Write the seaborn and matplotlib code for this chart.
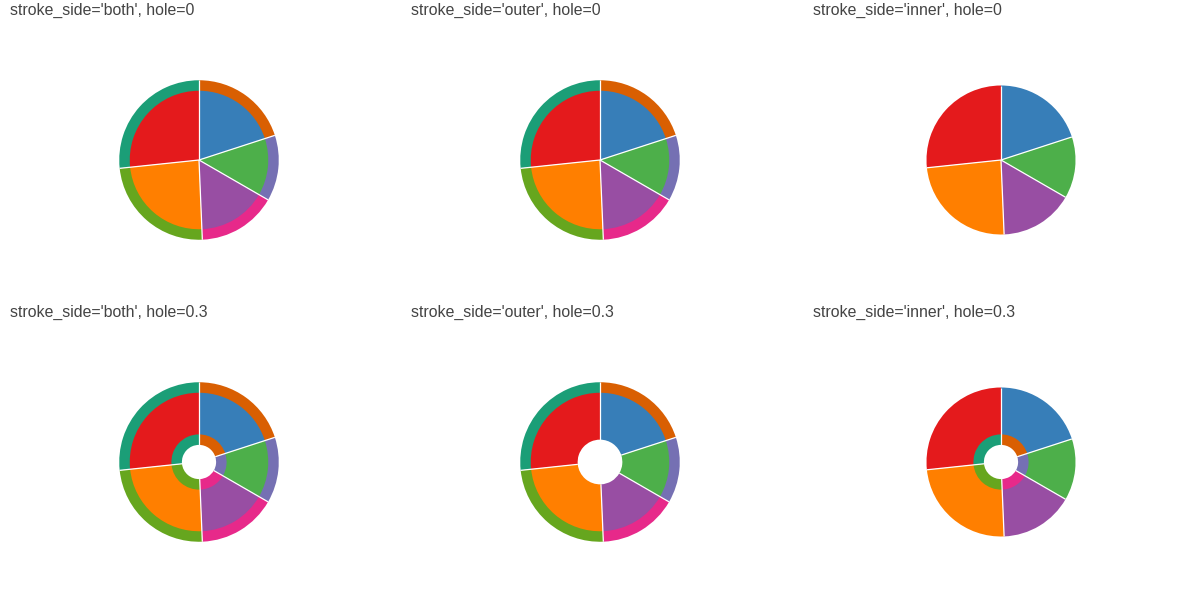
import matplotlib
matplotlib.use("Agg")
import matplotlib.pyplot as plt
import numpy as np
import seaborn as sns

# slice values, clockwise from 12 o'clock
categories = ["A", "B", "C", "D", "E"]
values = [15, 10, 12, 18, 20]

stroke_sides = ["both", "outer", "inner"]
holes = [0, 0.3]

sns.set_theme(style="white")
plt.rcParams["font.family"] = ["Liberation Sans", "DejaVu Sans"]

set1 = sns.color_palette("Set1")
dark2 = sns.color_palette("Dark2")
fill_colors = [set1[1], set1[2], set1[3], set1[4], set1[0]]
stroke_colors = [dark2[1], dark2[2], dark2[3], dark2[4], dark2[0]]

W, H = 1200, 600
R = 74.5        # pie radius in px
STROKE = 10.5   # stroke band width in px
col_x = [199, 600, 1001]
row_y = [160, 462]
title_x = [10, 411, 813]
title_base = [15, 317]


def ring(ax, r_out, width, colors):
    ax.pie(values, colors=colors, radius=r_out, startangle=90, counterclock=False,
           wedgeprops=dict(width=width, linewidth=0))


def separators(ax, r_in, r_out):
    # white radial lines at slice boundaries
    frac = np.cumsum([0] + values[:-1]) / sum(values)
    ang = np.pi / 2 - 2 * np.pi * frac
    for a in ang:
        ax.plot([r_in * np.cos(a), r_out * np.cos(a)],
                [r_in * np.sin(a), r_out * np.sin(a)],
                color="white", lw=0.9, solid_capstyle="butt")


def draw_panel(ax, side, hole):
    h = hole * R
    r_in, r_out = h, R
    ring(ax, R, R - h, fill_colors)
    if side in ("both", "outer"):
        ring(ax, R + STROKE / 2, STROKE, stroke_colors)
        r_out = R + STROKE / 2
    if side in ("both", "inner") and hole > 0:
        ring(ax, h + STROKE / 2, STROKE, stroke_colors)
        r_in = h - STROKE / 2
    separators(ax, r_in, r_out)
    ax.set_xlim(-100, 100)
    ax.set_ylim(-100, 100)
    ax.set_aspect("equal")
    ax.axis("off")


fig = plt.figure(figsize=(W / 100, H / 100), dpi=100)
for r, hole in enumerate(holes):
    for c, side in enumerate(stroke_sides):
        cx, cy = col_x[c], row_y[r]
        ax = fig.add_axes([(cx - 100) / W, 1 - (cy + 100) / H, 200 / W, 200 / H])
        draw_panel(ax, side, hole)
        fig.text(title_x[c] / W, 1 - title_base[r] / H,
                 f"stroke_side='{side}', hole={hole}",
                 fontsize=11.4, color="#444444", ha="left", va="baseline")

fig.savefig("out.png", dpi=100)
